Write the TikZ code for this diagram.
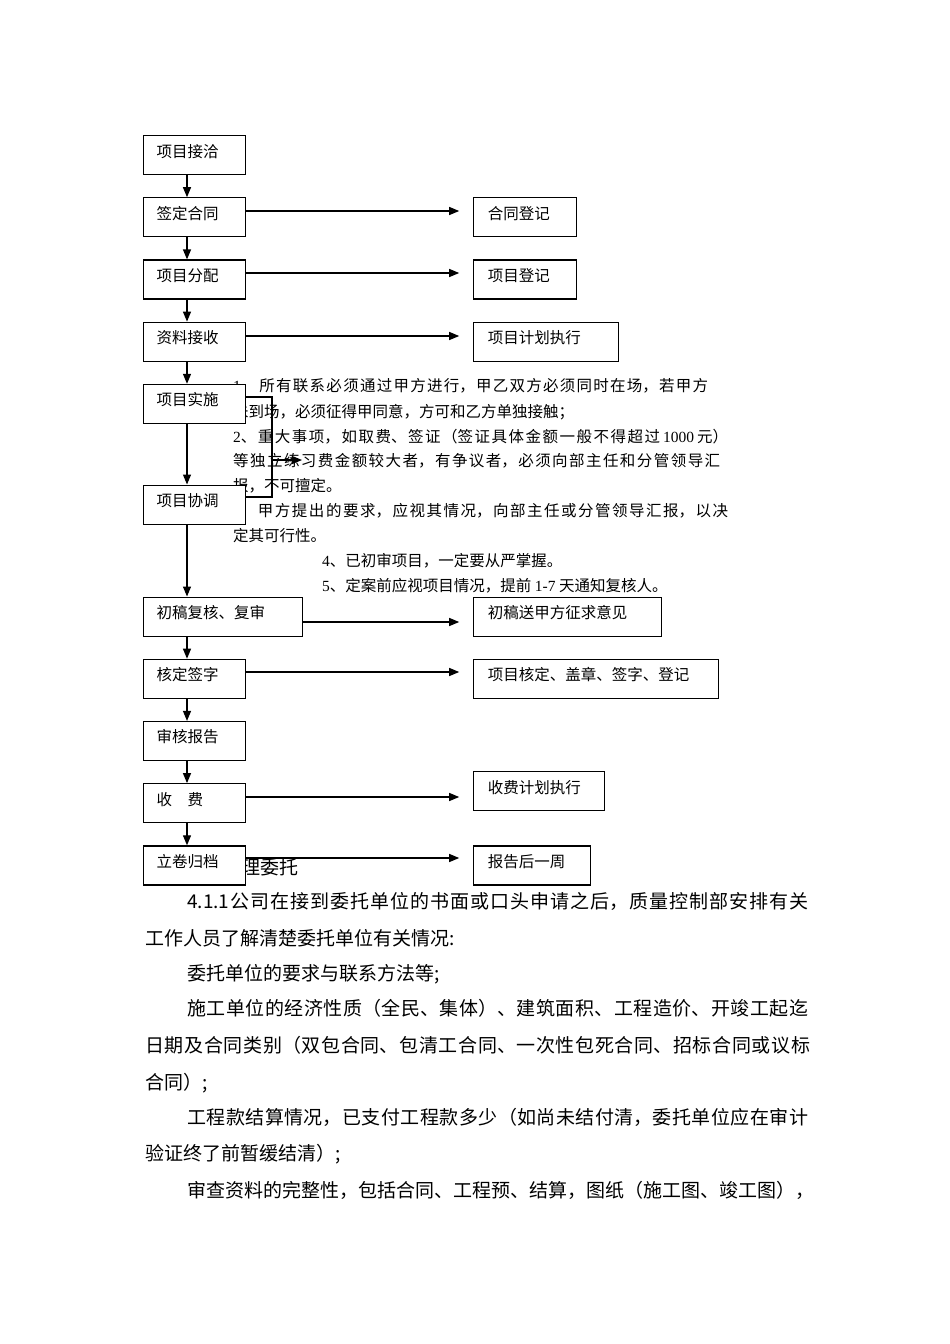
\documentclass[tikz,border=0pt]{standalone}
\usepackage{fontspec}
\setmainfont{Noto Sans CJK SC}
\newfontfamily\latinfont{Liberation Serif}
\XeTeXlinebreaklocale "zh"
\XeTeXlinebreakskip=0pt plus 4pt
\usetikzlibrary{positioning, arrows.meta}
\newcommand{\flowfont}{\fontsize{15.5}{18}\selectfont}
\newcommand{\remarkfont}{\fontsize{15.5}{18}\selectfont}
\newcommand{\parafont}{\fontsize{19}{22}\selectfont}
\newcommand{\fullline}[1]{\parfillskip=0pt #1\par}
\tikzstyle{block} = [rectangle, draw=black, fill=white, line width=1.2pt, minimum height=39pt, text height=11pt, text depth=7.2pt, inner xsep=13pt, inner ysep=0pt, align=left, font=\flowfont]
\tikzstyle{record} = [block, inner xsep=14pt]
\tikzstyle{remark} = [anchor=base west, inner sep=0pt, font=\remarkfont]
\tikzstyle{para} = [anchor=base west, inner sep=0pt, font=\parafont]
\tikzstyle{link} = [line width=1.2pt]
\tikzstyle{arrow} = [line width=1.2pt, ->, >={Triangle[length=10pt, width=8pt]}]

\begin{document}
\begin{tikzpicture}[x=1pt, y=-1pt]
        \path [use as bounding box, fill=white] (0,0) rectangle (950,1344);

        % notes beside the flow (partly hidden under the boxes)
        \node (note1) [remark, text width=475pt, align=justify] at (233,391) {\fullline{{\latinfont 1}、\kern3pt 所有联系必须通过甲方进行，甲乙双方必须同时在场，若甲方}};
        \node (note2) [remark] at (233,417) {未到场，必须征得甲同意，方可和乙方单独接触；};
        \node (note3) [remark, text width=495pt, align=justify] at (233,442) {\fullline{{\latinfont 2}、重大事项，如取费、签证（签证具体金额一般不得超过\kern3pt{\latinfont 1000}\kern3pt 元）}};
        \node (note4) [remark, text width=487pt, align=justify] at (233,466) {\fullline{等独立练习费金额较大者，有争议者，必须向部主任和分管领导汇}};
        \node (note5) [remark] at (233,491) {报，不可擅定。};
        \node (note6) [remark, text width=495pt, align=justify] at (233,516) {\fullline{{\latinfont 3}、甲方提出的要求，应视其情况，向部主任或分管领导汇报，以决}};
        \node (note7) [remark] at (233,541) {定其可行性。};
        \node (note8) [remark] at (322,566) {{\latinfont 4}、已初审项目，一定要从严掌握。};
        \node (note9) [remark] at (322,591) {{\latinfont 5}、定案前应视项目情况，提前 {\latinfont 1-7} 天通知复核人。};

        \node (weituo) [para] at (241,874) {理委托};

        % body text under the chart
        \node (para1) [para, text width=621pt, align=justify] at (187,908) {\fullline{4.1.1公司在接到委托单位的书面或口头申请之后，质量控制部安排有关}};
        \node (para2) [para] at (145,945) {工作人员了解清楚委托单位有关情况:};
        \node (para3) [para] at (187,980) {委托单位的要求与联系方法等;};
        \node (para4) [para, text width=621pt, align=justify] at (187,1015) {\fullline{施工单位的经济性质（全民、集体）、建筑面积、工程造价、开竣工起迄}};
        \node (para5) [para, text width=665pt, align=justify] at (145,1052) {\fullline{日期及合同类别（双包合同、包清工合同、一次性包死合同、招标合同或议标}};
        \node (para6) [para] at (145,1089) {合同）;};
        \node (para7) [para, text width=621pt, align=justify] at (187,1124) {\fullline{工程款结算情况，已支付工程款多少（如尚未结付清，委托单位应在审计}};
        \node (para8) [para] at (145,1160) {验证终了前暂缓结清）;};
        \node (para9) [para] at (187,1197) {审查资料的完整性，包括合同、工程预、结算，图纸（施工图、竣工图），};

        % main column
        \node (jieqia) [block, text width=76pt, anchor=north west] at (143,135) {项目接洽};
        \node (qianding) [block, text width=76pt, below=22pt of jieqia] {签定合同};
        \node (fenpei) [block, text width=76pt, below=22pt of qianding] {项目分配};
        \node (jieshou) [block, text width=76pt, below=22pt of fenpei] {资料接收};
        \node (shishi) [block, text width=76pt, below=22pt of jieshou] {项目实施};
        \node (xietiao) [block, text width=76pt, below=60.5pt of shishi] {项目协调};
        \node (fuhe) [block, text width=133pt, below=71.8pt of xietiao.south west, anchor=north west] {初稿复核、复审};
        \node (qianzi) [block, text width=76pt, below=22pt of fuhe.south west, anchor=north west] {核定签字};
        \node (baogao) [block, text width=76pt, below=22pt of qianzi] {审核报告};
        \node (shoufei) [block, text width=76pt, below=22pt of baogao] {收\hspace{15.5pt}费};
        \node (guidang) [block, text width=76pt, below=22pt of shoufei] {立卷归档};

        % records on the right
        \node (htdj) [record, text width=75pt, right=227pt of qianding] {合同登记};
        \node (xmdj) [record, text width=75pt, right=227pt of fenpei] {项目登记};
        \node (jhzx) [record, text width=117pt, right=227pt of jieshou] {项目计划执行};
        \node (zqyj) [record, text width=160pt, right=170pt of fuhe] {初稿送甲方征求意见};
        \node (hdgz) [record, text width=217pt, right=227pt of qianzi] {项目核定、盖章、签字、登记};
        \node (sfzx) [record, text width=103pt, right=227pt of shoufei, yshift=12pt] {收费计划执行};
        \node (yizhou) [record, text width=89pt, right=227pt of guidang] {报告后一周};

        \coordinate (spine) at (187,0);
        \coordinate (row2) at (0,211);
        \coordinate (row3) at (0,273);
        \coordinate (row4) at (0,336);
        \coordinate (row7) at (0,622);
        \coordinate (row8) at (0,672);
        \coordinate (row10) at (0,797);
        \coordinate (row11) at (0,858);
        \coordinate (brtop) at (0,397);
        \coordinate (brbot) at (0,497);
        \coordinate (brk) at (272,460);
        \coordinate (brtip) at (302,460);

        \draw [arrow] (jieqia.south -| spine) -- (qianding.north -| spine);
        \draw [arrow] (qianding.south -| spine) -- (fenpei.north -| spine);
        \draw [arrow] (fenpei.south -| spine) -- (jieshou.north -| spine);
        \draw [arrow] (jieshou.south -| spine) -- (shishi.north -| spine);
        \draw [arrow] (shishi.south -| spine) -- (xietiao.north -| spine);
        \draw [arrow] (xietiao.south -| spine) -- (fuhe.north -| spine);
        \draw [arrow] (fuhe.south -| spine) -- (qianzi.north -| spine);
        \draw [arrow] (qianzi.south -| spine) -- (baogao.north -| spine);
        \draw [arrow] (baogao.south -| spine) -- (shoufei.north -| spine);
        \draw [arrow] (shoufei.south -| spine) -- (guidang.north -| spine);

        \draw [arrow, shorten >=14pt] (qianding.east |- row2) -- (htdj.west |- row2);
        \draw [arrow, shorten >=14pt] (fenpei.east |- row3) -- (xmdj.west |- row3);
        \draw [arrow, shorten >=14pt] (jieshou.east |- row4) -- (jhzx.west |- row4);
        \draw [arrow, shorten >=14pt] (fuhe.east |- row7) -- (zqyj.west |- row7);
        \draw [arrow, shorten >=14pt] (qianzi.east |- row8) -- (hdgz.west |- row8);
        \draw [arrow, shorten >=14pt] (shoufei.east |- row10) -- (sfzx.west |- row10);
        \draw [arrow, shorten >=14pt] (guidang.east |- row11) -- (yizhou.west |- row11);

        \draw [link] (shishi.east |- brtop) -| (brk) |- (xietiao.east |- brbot);
        \draw [arrow] (brk) -- (brtip);
\end{tikzpicture}
\end{document}
